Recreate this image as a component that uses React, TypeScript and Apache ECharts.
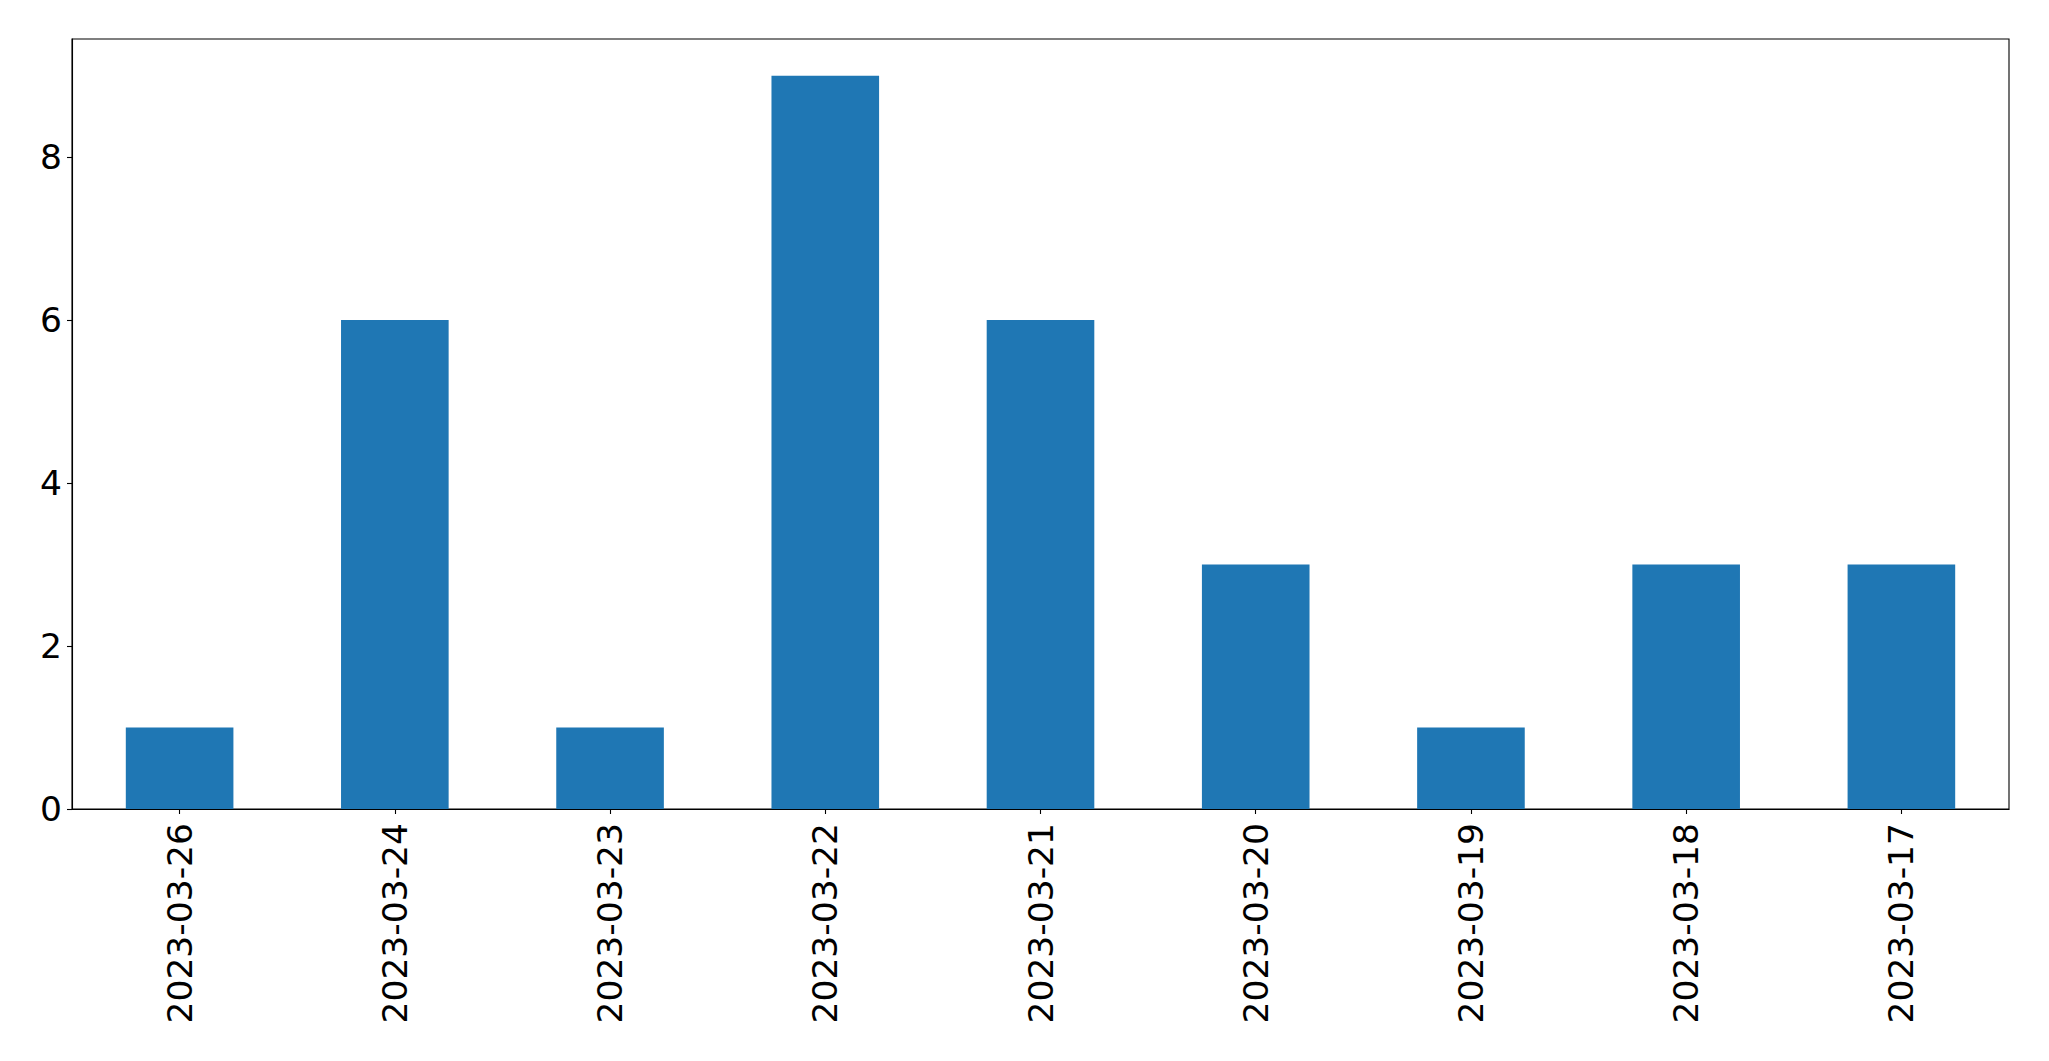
import React, { useEffect, useRef } from "react";
import * as echarts from "echarts";

const categories = [
  "2023-03-26",
  "2023-03-24",
  "2023-03-23",
  "2023-03-22",
  "2023-03-21",
  "2023-03-20",
  "2023-03-19",
  "2023-03-18",
  "2023-03-17",
];
const counts = [1, 6, 1, 9, 6, 3, 1, 3, 3];
const yTicks = [0, 2, 4, 6, 8];

export default function App() {
  const ref = useRef<HTMLDivElement>(null);
  useEffect(() => {
    document.body.style.margin = "0";
    const chart = echarts.init(ref.current!, null, { renderer: "svg" });
    const font = "DejaVu Sans";
    chart.setOption({
      animation: false,
      backgroundColor: "#ffffff",
      grid: {
        left: 72,
        top: 39,
        width: 1937,
        height: 770,
        show: true,
        borderColor: "#000000",
        borderWidth: 1.1,
        backgroundColor: "transparent",
      },
      xAxis: {
        type: "category",
        data: categories,
        boundaryGap: true,
        axisLine: { show: true, lineStyle: { color: "#000", width: 1.1 } },
        axisTick: { show: true, alignWithLabel: true, length: 5, lineStyle: { color: "#000", width: 1.1 } },
        axisLabel: {
          rotate: 90,
          margin: 14,
          color: "#000",
          fontFamily: font,
          fontSize: 34.5,
          interval: 0,
        },
        splitLine: { show: false },
      },
      yAxis: {
        type: "value",
        min: 0,
        max: 9.45,
        interval: 2,
        axisLine: { show: true, lineStyle: { color: "#000", width: 1.1 } },
        axisTick: {
          show: true,
          length: 5,
          lineStyle: { color: "#000", width: 1.1 },
          customValues: yTicks,
        },
        axisLabel: {
          color: "#000",
          fontFamily: font,
          fontSize: 34.5,
          margin: 10,
          customValues: yTicks,
        },
        splitLine: { show: false },
      },
      series: [
        {
          type: "bar",
          data: counts,
          barWidth: "50%",
          itemStyle: { color: "#1f77b4" },
        },
      ],
    });
    return () => chart.dispose();
  }, []);
  return <div ref={ref} style={{ width: 2049, height: 1061 }} />;
}
